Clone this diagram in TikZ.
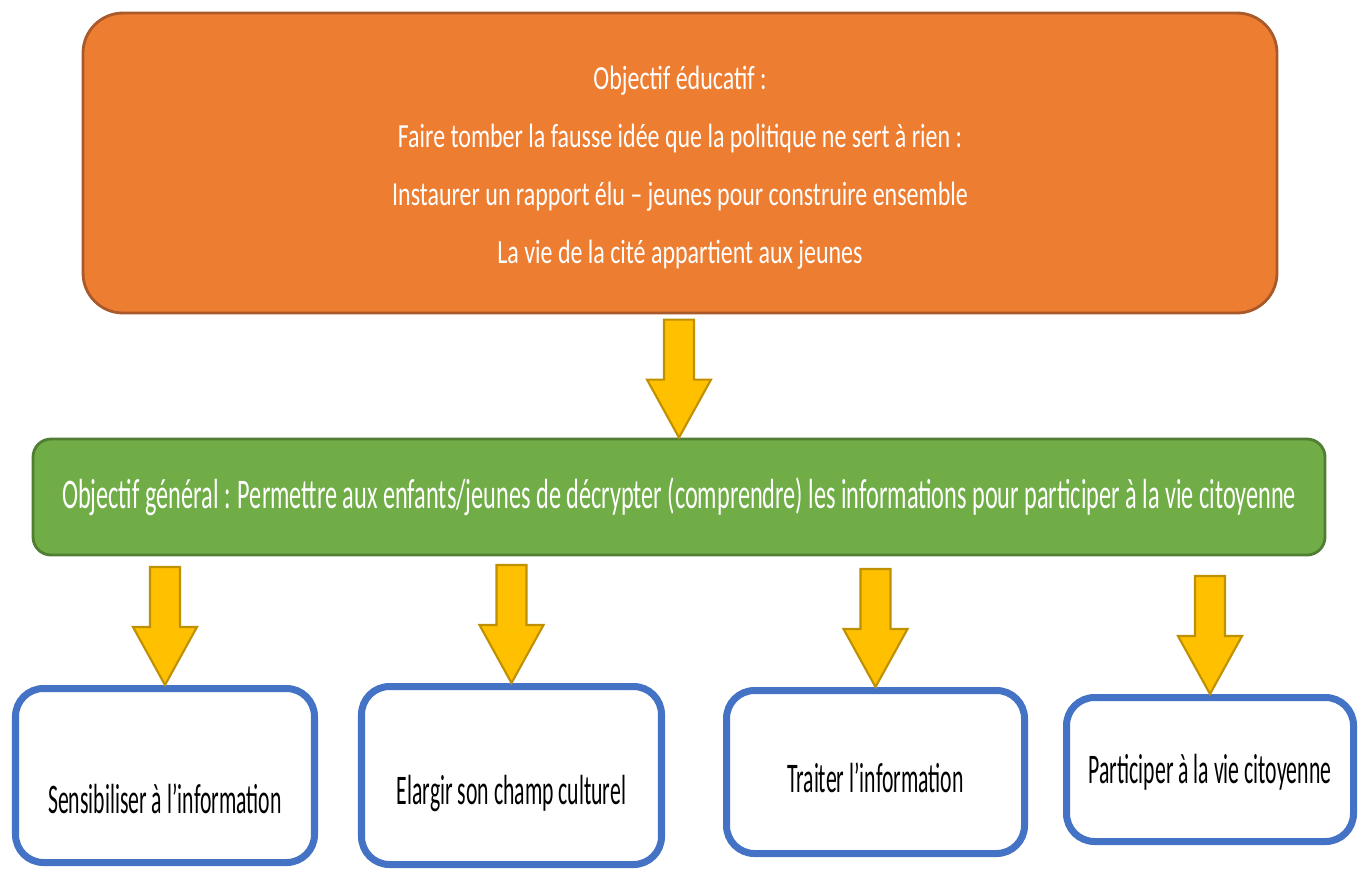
\documentclass[tikz,border=0pt]{standalone}
\usepackage{fontspec}
\setmainfont{Carlito}
\newfontfamily\topfont{Carlito}[FakeStretch=0.71]
\newfontfamily\goalfont{Carlito}[FakeStretch=0.575]
\newfontfamily\slimfont{Carlito}[FakeStretch=0.515]

\definecolor{orangefill}{HTML}{ED7D31}
\definecolor{orangeline}{HTML}{A9592A}
\definecolor{greenfill}{HTML}{70AD47}
\definecolor{greenline}{HTML}{507E32}
\definecolor{arrowfill}{HTML}{FFC000}
\definecolor{arrowline}{HTML}{BF9000}
\definecolor{cardline}{HTML}{4472C4}

% text lowered inside a card, without changing the card
\newcommand{\cardtext}[2]{\raisebox{#1}[0pt][0pt]{#2}}

\begin{document}
\begin{tikzpicture}[
    x=0.1mm, y=-0.1mm,
    topbox/.style = {draw=orangeline, fill=orangefill, line width=0.8pt,
      rounded corners=4mm, minimum width=119.4mm, minimum height=30mm,
      text=white, align=center, font=\topfont\fontsize{9.6}{16.5}\selectfont},
    goalbox/.style = {draw=greenline, fill=greenfill, line width=0.8pt,
      rounded corners=1.8mm, minimum width=129.2mm, minimum height=11.6mm,
      text=white, font=\goalfont\fontsize{12}{14}\selectfont},
    card/.style = {draw=cardline, fill=white, line width=2pt,
      rounded corners=2.8mm, font=\slimfont\fontsize{12}{14}\selectfont},
    blockarrow/.style = {draw=arrowline, fill=arrowfill, line width=0.6pt,
      line join=miter}
    ]
    \useasboundingbox (0,0) rectangle (1359,870);

    \node[topbox] (educ) at (680,163) {\rule{0pt}{3.2mm}Objectif éducatif :\\
      Faire tomber la fausse idée que la politique ne sert à rien :\\
      Instaurer un rapport élu – jeunes pour construire ensemble\\
      La vie de la cité appartient aux jeunes};
    \node[goalbox] (goal) at (679,497) {Objectif général : Permettre aux enfants/jeunes de décrypter (comprendre) les informations pour participer à la vie citoyenne};

    \node[card, minimum width=29.9mm, minimum height=17.4mm] (sensib) at (165,775.5)
      {\cardtext{-3.8mm}{Sensibiliser à l’information}};
    \node[card, minimum width=30.0mm, minimum height=17.8mm] (elarg) at (511.5,775.5)
      {\cardtext{-2.85mm}{Elargir son champ culturel}};
    \node[card, minimum width=29.8mm, minimum height=16.3mm] (trait) at (875.5,772)
      {\cardtext{-2mm}{Traiter l’information}};
    \node[card, minimum width=28.7mm, minimum height=14.4mm] (partic) at (1210,769.5)
      {\cardtext{-1.4mm}{Participer à la vie citoyenne}};

    % block arrows, drawn back from the tip
    \foreach \n in {goal,sensib,elarg,trait,partic}
      \draw[blockarrow] (\n.north) -- ++(-32,-58) -- ++(17,0) -- ++(0,-60)
        -- ++(30,0) -- ++(0,60) -- ++(17,0) -- cycle;
\end{tikzpicture}
\end{document}
